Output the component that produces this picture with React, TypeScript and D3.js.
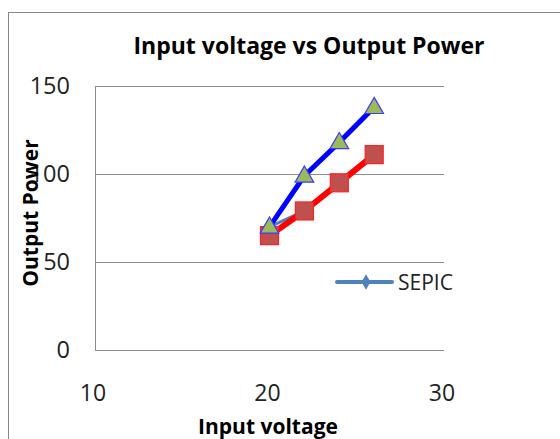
import React from "react";
import * as d3 from "d3";

const xValues = [20, 22, 24, 26];
const seriesBlue = [70, 99, 118, 138];
const seriesRed = [65, 79, 95, 111];
const seriesSepic = [70, 79, 95, 111];
const yTicks = [0, 50, 100, 150];
const xTicks = [10, 20, 30];
const title = "Input voltage vs Output Power";
const xTitle = "Input voltage";
const yTitle = "Output Power";
const legendLabel = "SEPIC";

const W = 560;
const H = 439;
const FONT = "'Open Sans', Lato, sans-serif";

export default function App() {
  const x = d3.scaleLinear().domain([10, 30]).range([95, 444]);
  const y = d3.scaleLinear().domain([0, 150]).range([350, 86]);
  const line = d3
    .line<number>()
    .x((_, i) => x(xValues[i]))
    .y((d) => y(d));
  const tri = d3.symbol().type(d3.symbolTriangle).size(150)();
  const dia = d3.symbol().type(d3.symbolDiamond).size(70)();

  return (
    <svg
      width={W}
      height={H}
      style={{ position: "absolute", left: 0, top: 0, background: "#fff" }}
      fontFamily={FONT}
    >
      <rect x={8.5} y={12.5} width={700} height={600} fill="#fff" stroke="#888" strokeWidth={1} />
      {/* gridlines */}
      {yTicks.filter((t) => t > 0).map((t) => (
        <line key={t} x1={x(10)} x2={x(30)} y1={Math.round(y(t)) + 0.5} y2={Math.round(y(t)) + 0.5} stroke="#8c8c8c" strokeWidth={1} />
      ))}
      <line x1={x(10) + 0.5} x2={x(10) + 0.5} y1={y(150)} y2={y(0)} stroke="#8c8c8c" />
      <line x1={x(10)} x2={x(30)} y1={y(0) + 0.5} y2={y(0) + 0.5} stroke="#8c8c8c" />
      {/* y tick labels */}
      {yTicks.map((t) => (
        <text key={t} x={70} y={y(t)} dy="0.36em" textAnchor="end" fontSize={23.5} fill="#222">
          {t}
        </text>
      ))}
      {/* x tick labels */}
      {xTicks.map((t) => (
        <text key={t} x={x(t) - 2} y={393} dy="0.36em" textAnchor="middle" fontSize={23} fill="#222">
          {t}
        </text>
      ))}
      {/* title */}
      <text x={309} y={46} dy="0.36em" textAnchor="middle" fontSize={23} fontWeight="bold" fill="#000">
        {title}
      </text>
      <text x={268} y={426} dy="0.36em" textAnchor="middle" fontSize={21} fontWeight="bold" fill="#000">
        {xTitle}
      </text>
      <text
        transform={`translate(30,213) rotate(-90)`}
        dy="0.36em"
        textAnchor="middle"
        fontSize={21}
        fontWeight="bold"
        fill="#000"
      >
        {yTitle}
      </text>
      {/* series */}
      <path d={line(seriesSepic) || ""} fill="none" stroke="#4F81BD" strokeWidth={3} strokeLinejoin="round" />
      <path d={line(seriesRed) || ""} fill="none" stroke="#ff0000" strokeWidth={6} strokeLinejoin="round" />
      <path d={line(seriesBlue) || ""} fill="none" stroke="#0000ff" strokeWidth={5} strokeLinejoin="round" />
      {seriesRed.map((v, i) => (
        <rect key={i} x={x(xValues[i]) - 9} y={y(v) - 9} width={18} height={18} fill="#C0504D" stroke="#ff2020" strokeWidth={1.2} />
      ))}
      {seriesBlue.map((v, i) => (
        <path key={i} d={tri || ""} transform={`translate(${x(xValues[i])},${y(v) + 1})`} fill="#9BBB59" stroke="#3a3aff" strokeWidth={1.2} />
      ))}
      {/* legend */}
      <line x1={337} x2={392} y1={282} y2={282} stroke="#4F81BD" strokeWidth={4} strokeLinecap="round" />
      <path d={dia || ""} transform="translate(366,282)" fill="#4F81BD" />
      <text x={398} y={282} dy="0.36em" fontSize={21} fill="#222">
        {legendLabel}
      </text>
    </svg>
  );
}
